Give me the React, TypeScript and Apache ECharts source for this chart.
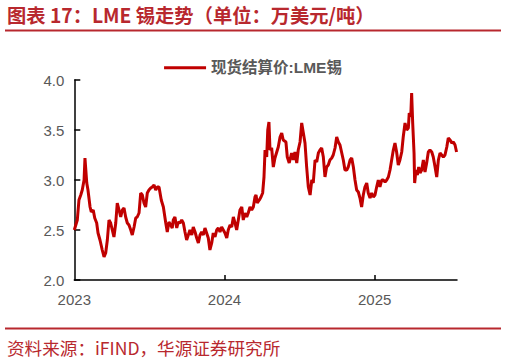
import React, { useEffect, useRef } from "react";
import * as echarts from "echarts";

const titleText = "图表 17：LME 锡走势（单位：万美元/吨）";
const sourceText = "资料来源：iFIND，华源证券研究所";
const seriesName = "现货结算价:LME锡";
const yearLabels = [2023, 2024, 2025];
const yearTicks = [2024, 2025];

// time in decimal years
const dates = [
  2023.0, 2023.02, 2023.031, 2023.043, 2023.053, 2023.065, 2023.071, 2023.083, 2023.091, 2023.105,
  2023.113, 2023.126, 2023.136, 2023.149, 2023.158, 2023.171, 2023.186, 2023.198, 2023.209, 2023.22,
  2023.231, 2023.242, 2023.253, 2023.264, 2023.276, 2023.286, 2023.298, 2023.309, 2023.32, 2023.331,
  2023.342, 2023.353, 2023.364, 2023.376, 2023.386, 2023.398, 2023.409, 2023.419, 2023.431, 2023.442,
  2023.453, 2023.464, 2023.475, 2023.486, 2023.497, 2023.509, 2023.519, 2023.531, 2023.542, 2023.553,
  2023.564, 2023.579, 2023.593, 2023.609, 2023.619, 2023.63, 2023.642, 2023.652, 2023.659, 2023.67,
  2023.682, 2023.692, 2023.704, 2023.715, 2023.726, 2023.737, 2023.748, 2023.759, 2023.77, 2023.782,
  2023.792, 2023.804, 2023.815, 2023.826, 2023.837, 2023.848, 2023.859, 2023.87, 2023.881, 2023.892,
  2023.903, 2023.915, 2023.925, 2023.937, 2023.948, 2023.959, 2023.97, 2023.981, 2023.992, 2024.003,
  2024.015, 2024.025, 2024.037, 2024.048, 2024.059, 2024.07, 2024.081, 2024.092, 2024.103, 2024.115,
  2024.125, 2024.137, 2024.148, 2024.158, 2024.17, 2024.181, 2024.192, 2024.203, 2024.21, 2024.218,
  2024.232, 2024.243, 2024.254, 2024.263, 2024.27, 2024.281, 2024.288, 2024.296, 2024.303, 2024.314,
  2024.325, 2024.336, 2024.358, 2024.37, 2024.381, 2024.391, 2024.409, 2024.418, 2024.431, 2024.447,
  2024.458, 2024.469, 2024.481, 2024.491, 2024.503, 2024.514, 2024.525, 2024.536, 2024.547, 2024.558,
  2024.57, 2024.581, 2024.591, 2024.603, 2024.614, 2024.625, 2024.636, 2024.647, 2024.658, 2024.669,
  2024.68, 2024.691, 2024.702, 2024.714, 2024.724, 2024.736, 2024.747, 2024.758, 2024.769, 2024.791,
  2024.802, 2024.814, 2024.824, 2024.836, 2024.847, 2024.858, 2024.869, 2024.88, 2024.891, 2024.902,
  2024.913, 2024.924, 2024.935, 2024.947, 2024.957, 2024.969, 2024.98, 2024.991, 2025.002, 2025.013,
  2025.024, 2025.035, 2025.047, 2025.057, 2025.069, 2025.08, 2025.091, 2025.102, 2025.113, 2025.124,
  2025.135, 2025.146, 2025.157, 2025.168, 2025.18, 2025.19, 2025.202, 2025.213, 2025.224, 2025.23,
  2025.24, 2025.246, 2025.253, 2025.262, 2025.266, 2025.275, 2025.284, 2025.293, 2025.302, 2025.313,
  2025.324, 2025.335, 2025.346, 2025.357, 2025.368, 2025.38, 2025.39, 2025.402, 2025.413, 2025.424,
  2025.435, 2025.446, 2025.457, 2025.468, 2025.48, 2025.49, 2025.502, 2025.513, 2025.524, 2025.535,
  2025.545,
];

// LME tin spot settlement price, 10k USD / t
const tinPrice = [
  2.5, 2.6, 2.8, 2.85, 2.9, 3.0, 3.22, 2.97, 2.9, 2.73,
  2.68, 2.7, 2.62, 2.57, 2.47, 2.4, 2.3, 2.23, 2.27, 2.4,
  2.6, 2.57, 2.5, 2.43, 2.57, 2.77, 2.7, 2.63, 2.7, 2.72,
  2.63, 2.57, 2.55, 2.5, 2.45, 2.53, 2.62, 2.63, 2.67, 2.87,
  2.85, 2.77, 2.73, 2.87, 2.9, 2.92, 2.93, 2.95, 2.9, 2.93,
  2.93, 2.8, 2.73, 2.57, 2.48, 2.58, 2.55, 2.52, 2.6, 2.63,
  2.52, 2.58, 2.57, 2.6, 2.57, 2.48, 2.4, 2.45, 2.5, 2.45,
  2.53, 2.48, 2.42, 2.37, 2.45, 2.48, 2.45, 2.52, 2.47, 2.42,
  2.3, 2.37, 2.47, 2.43, 2.5, 2.52, 2.48, 2.53, 2.5, 2.47,
  2.42, 2.5, 2.55, 2.53, 2.63, 2.57, 2.5, 2.6, 2.7, 2.73,
  2.6, 2.67, 2.63, 2.67, 2.73, 2.7, 2.73, 2.83, 2.85, 2.77,
  2.8, 2.83, 2.87, 3.03, 3.3, 3.23, 3.5, 3.58, 3.3, 3.32,
  3.13, 3.22, 3.33, 3.43, 3.47, 3.4, 3.38, 3.23, 3.17, 3.27,
  3.2, 3.28, 3.17, 3.3, 3.38, 3.57, 3.47, 3.37, 3.13, 2.93,
  2.85, 3.0, 2.97, 3.2, 3.18, 3.27, 3.3, 3.32, 3.23, 3.03,
  3.13, 3.15, 3.2, 3.22, 3.25, 3.32, 3.43, 3.38, 3.35, 3.2,
  3.1, 3.1, 3.13, 3.2, 3.22, 3.13, 3.0, 2.9, 2.88, 2.82,
  2.73, 2.85, 2.93, 2.97, 2.87, 2.82, 2.87, 2.83, 2.85, 2.93,
  3.0, 2.93, 3.0, 3.0, 2.98, 3.0, 3.03, 3.1, 3.2, 3.3,
  3.37, 3.28, 3.15, 3.2, 3.28, 3.43, 3.57, 3.5, 3.52, 3.67,
  3.63, 3.87, 3.57, 3.27, 2.97, 3.1, 3.05, 3.13, 3.07, 3.1,
  3.2, 3.08, 3.17, 3.28, 3.3, 3.28, 3.23, 3.13, 3.03, 3.2,
  3.27, 3.25, 3.23, 3.25, 3.33, 3.42, 3.4, 3.37, 3.38, 3.35,
  3.28,
];

const RED = "#B8282E";
const LINE_RED = "#C00000";
const GREY = "#595959";
const LATIN = 'Arial, "Liberation Sans", "Noto Sans CJK SC", sans-serif';
const CJK = '"Noto Sans CJK SC", "Noto Sans", sans-serif';

export default function App() {
  const ref = useRef<HTMLDivElement>(null);
  useEffect(() => {
    document.body.style.margin = "0";
    const chart = echarts.init(ref.current!, null, { renderer: "svg" });
    chart.setOption({
      animation: false,
      backgroundColor: "#ffffff",
      title: {
        text: titleText,
        left: 7,
        top: 5,
        padding: 0,
        textStyle: { color: RED, fontSize: 19.3, fontWeight: "bold", fontFamily: CJK },
      },
      legend: {
        data: [seriesName],
        top: 55,
        left: "center",
        icon: "rect",
        itemWidth: 42,
        itemHeight: 3,
        textStyle: { color: GREY, fontSize: 15.5, fontWeight: "bold", fontFamily: LATIN },
      },
      grid: { left: 74.3, right: 49, top: 80, bottom: 82, containLabel: false },
      xAxis: {
        type: "value",
        min: 2023,
        max: 2025.548,
        interval: 1,
        axisLine: { show: true, lineStyle: { color: "#000", width: 1.5 } },
        axisTick: { show: true, inside: true, length: 5, customValues: yearTicks, lineStyle: { color: "#000", width: 1.5 } },
        axisLabel: {
          customValues: yearLabels,
          color: GREY,
          fontSize: 15,
          fontFamily: LATIN,
          margin: 12,
          formatter: (v: number) => String(Math.round(v)),
        },
        splitLine: { show: false },
      },
      yAxis: {
        type: "value",
        min: 2,
        max: 4,
        interval: 0.5,
        axisLine: { show: true, lineStyle: { color: "#000", width: 1.5 } },
        axisTick: { show: true, inside: true, length: 6, lineStyle: { color: "#000", width: 1.5 } },
        axisLabel: {
          color: GREY,
          fontSize: 15,
          fontFamily: LATIN,
          margin: 10,
          formatter: (v: number) => v.toFixed(1),
        },
        splitLine: { show: false },
      },
      series: [
        {
          name: seriesName,
          type: "line",
          data: dates.map((d, i) => [d, tinPrice[i]]),
          showSymbol: false,
          symbol: "none",
          lineStyle: { color: LINE_RED, width: 3 },
          itemStyle: { color: LINE_RED },
        },
      ],
      graphic: [
        { type: "line", shape: { x1: 5, y1: 30.5, x2: 501, y2: 30.5 }, style: { stroke: RED, lineWidth: 2 } },
        { type: "line", shape: { x1: 5, y1: 328.5, x2: 501, y2: 328.5 }, style: { stroke: RED, lineWidth: 2 } },
        {
          type: "text",
          left: 7,
          top: 339,
          style: { text: sourceText, fill: RED, fontSize: 17.6, fontFamily: CJK },
        },
      ],
    });
    return () => chart.dispose();
  }, []);
  return <div ref={ref} style={{ position: "absolute", left: 0, top: 0, width: 506, height: 362 }} />;
}
